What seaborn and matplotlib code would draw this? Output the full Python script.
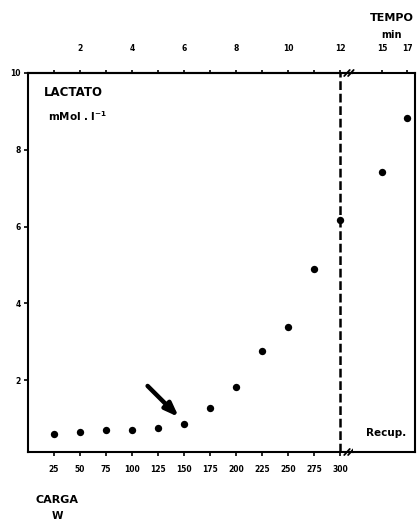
import matplotlib
matplotlib.use("Agg")
import matplotlib.pyplot as plt
import seaborn as sns
import pandas as pd

# exercise phase: load (W) -> time (min) = W / 25
carga_w = [25, 50, 75, 100, 125, 150, 175, 200, 225, 250, 275, 300]
lactato_ex = [0.59, 0.64, 0.71, 0.70, 0.75, 0.85, 1.28, 1.81, 2.77, 3.39, 4.90, 6.17]

# recovery phase
tempo_rec = [15, 17]
lactato_rec = [7.43, 8.82]

tempo_ticks = [1, 2, 3, 4, 5, 6, 7, 8, 9, 10, 11, 12]
y_ticks = [2, 4, 6, 8, 10]

sns.set_style("ticks")
plt.rcParams["font.family"] = ["DejaVu Sans"]
plt.rcParams["font.weight"] = "bold"
plt.rcParams["text.color"] = "black"
plt.rcParams["xtick.color"] = "black"
plt.rcParams["ytick.color"] = "black"
plt.rcParams["axes.labelcolor"] = "black"

fig = plt.figure(figsize=(4.2, 5.22), dpi=100)
ax = fig.add_axes([28 / 420, 70 / 522, 325 / 420, 379 / 522])
ax2 = fig.add_axes([353 / 420, 70 / 522, 62 / 420, 379 / 522], sharey=ax)

df_ex = pd.DataFrame({"carga": carga_w, "lactato": lactato_ex})
df_rec = pd.DataFrame({"tempo": tempo_rec, "lactato": lactato_rec})

sns.scatterplot(data=df_ex, x="carga", y="lactato", ax=ax, color="black",
                s=28, edgecolor="black", linewidth=0, legend=False)
sns.scatterplot(data=df_rec, x="tempo", y="lactato", ax=ax2, color="black",
                s=28, edgecolor="black", linewidth=0, legend=False)

ax.set_xlim(0, 312.5)
ax.set_ylim(0.13, 10)
ax2.set_xlim(12.68, 17.64)

# spines
for a in (ax, ax2):
    for s in a.spines.values():
        s.set_linewidth(1.5)
        s.set_color("black")
ax.spines["right"].set_visible(False)
ax2.spines["left"].set_visible(False)

# bottom (load) axis
ax.set_xticks(carga_w)
ax.set_xticklabels([str(w) for w in carga_w], fontsize=5.5, fontweight="bold")
ax.tick_params(axis="x", direction="out", length=3, width=1.2, pad=6)
ax.set_yticks(y_ticks)
ax.set_yticklabels([str(v) for v in y_ticks], fontsize=5.5, fontweight="bold")
ax.tick_params(axis="y", direction="out", length=3, width=1.2, pad=2)
ax.set_xlabel("")
ax.set_ylabel("")

# top (time) axis
sec = ax.secondary_xaxis("top", functions=(lambda w: w / 25, lambda t: t * 25))
sec.set_xticks(tempo_ticks)
sec.set_xticklabels([str(t) if t % 2 == 0 else "" for t in tempo_ticks],
                    fontsize=5.5, fontweight="bold")
sec.tick_params(direction="out", length=2.5, width=1.2, pad=12, colors="black")
sec.spines["top"].set_linewidth(1.5)
sec.spines["top"].set_color("black")

ax2.xaxis.tick_top()
ax2.set_xticks(tempo_rec)
ax2.set_xticklabels([str(t) for t in tempo_rec], fontsize=5.5, fontweight="bold")
ax2.tick_params(axis="x", direction="out", length=2.5, width=1.2, pad=12)
ax2.tick_params(axis="y", left=False, labelleft=False)
ax2.set_xlabel("")
ax2.set_ylabel("")

# end of exercise
ax.axvline(300, color="black", lw=1.8, ls=(0, (3.5, 1.5)))

# axis break marks
for yb in (0, 1):
    for dx in (-0.012, 0.0):
        ax.plot([0.985 + dx, 1.002 + dx], [yb - 0.008, yb + 0.008],
                transform=ax.transAxes, color="black", lw=1.3, clip_on=False)

# arrow pointing at the 150 W point
ax.annotate("", xy=(145, 1.04), xytext=(115, 1.85),
            arrowprops=dict(arrowstyle="-|>,head_length=0.8,head_width=0.3",
                            lw=3.2, color="black", shrinkA=0, shrinkB=0))

# texts
ax.text(0.05, 0.965, "LACTATO", transform=ax.transAxes, fontsize=8.5,
        fontweight="bold", va="top", ha="left")
ax.text(0.062, 0.905, r"mMol . l$^{\mathbf{-1}}$", transform=ax.transAxes,
        fontsize=7.5, fontweight="bold", va="top", ha="left")
fig.text(392 / 420, 1 - 18 / 522, "TEMPO", fontsize=8, fontweight="bold",
         ha="center", va="center")
fig.text(392 / 420, 1 - 35 / 522, "min", fontsize=7, fontweight="bold",
         ha="center", va="center")
fig.text(57 / 420, 1 - 500 / 522, "CARGA", fontsize=8, fontweight="bold",
         ha="center", va="center")
fig.text(57 / 420, 1 - 516 / 522, "W", fontsize=7.5, fontweight="bold",
         ha="center", va="center")
fig.text(386 / 420, 1 - 433 / 522, "Recup.", fontsize=7.5, fontweight="bold",
         ha="center", va="center")

fig.savefig("out.png", dpi=100)
